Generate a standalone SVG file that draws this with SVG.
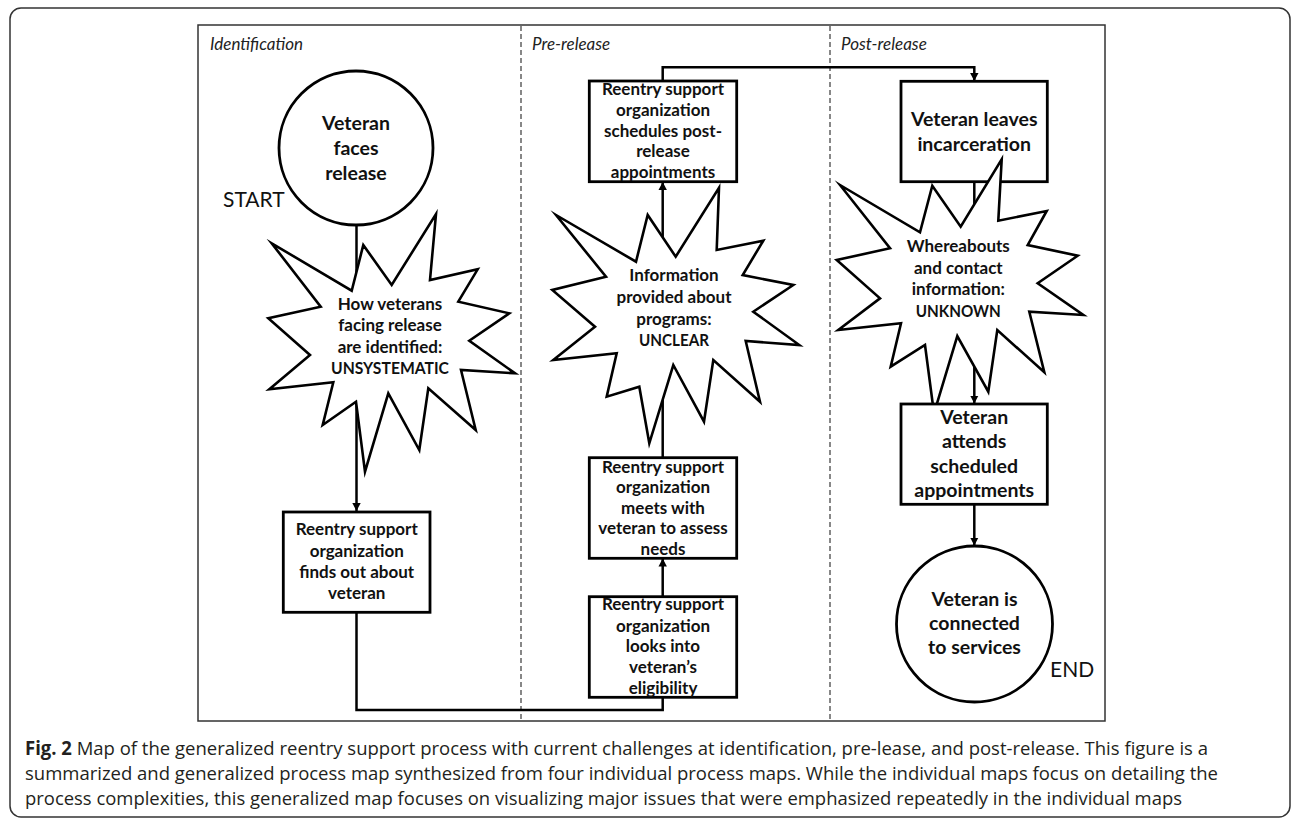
<svg xmlns="http://www.w3.org/2000/svg" width="1292" height="820" viewBox="0 0 1292 820">
<defs>
<style>
.frame{fill:none;stroke:#333;stroke-width:1.5}
.div{stroke:#555;stroke-width:1.4;stroke-dasharray:5 3;fill:none}
.box{fill:#fff;stroke:#000;stroke-width:2.8}
.burst{fill:#fff;stroke:#000;stroke-width:2.6;stroke-linejoin:miter;stroke-miterlimit:20}
.conn{fill:none;stroke:#000;stroke-width:2.5}
.t{font-family:Lato,"Liberation Sans",sans-serif;font-weight:bold;fill:#111;text-anchor:middle}
.s175{font-size:17px}
.s20{font-size:19.5px}
.phase{font-family:Lato,"Liberation Sans",sans-serif;font-style:italic;font-size:17px;fill:#222}
.se{font-family:Lato,"Liberation Sans",sans-serif;font-size:21px;fill:#111}
.cap{font-family:"Open Sans","Noto Sans",sans-serif;font-size:19px;fill:#231f20}
</style>
<marker id="arr" markerUnits="userSpaceOnUse" markerWidth="10" markerHeight="10" refX="8" refY="4.5" orient="auto">
<path d="M0,0.3 L8,4.5 L0,8.7 z" fill="#000"/>
</marker>
</defs>
<rect width="1292" height="820" fill="#fff"/>
<rect class="frame" x="10" y="8" width="1280" height="809" rx="11"/>
<rect class="frame" x="198" y="25" width="907" height="696"/>
<line class="div" x1="521" y1="26" x2="521" y2="720"/>
<line class="div" x1="830" y1="26" x2="830" y2="720"/>
<text class="phase" x="210" y="50">Identification</text>
<text class="phase" x="532" y="50">Pre-release</text>
<text class="phase" x="841" y="50">Post-release</text>

<g id="connectors">
<path class="conn" d="M356.5,225 V511" marker-end="url(#arr)"/>
<path class="conn" d="M356.5,612 V710 H662.7 V597" marker-end="url(#arr)"/>
<path class="conn" d="M662.7,597 V558.5" marker-end="url(#arr)"/>
<path class="conn" d="M662.7,457.7 V182" marker-end="url(#arr)"/>
<path class="conn" d="M662.7,81 V67.3 H974.3 V81" marker-end="url(#arr)"/>
<path class="conn" d="M974.3,181.7 V403.5" marker-end="url(#arr)"/>
<path class="conn" d="M974.3,504.3 V545.5" marker-end="url(#arr)"/>
</g>

<g id="start">
<circle class="box" cx="356" cy="148" r="77"/>
<text class="t s20" x="356" y="130">Veteran</text>
<text class="t s20" x="356" y="155">faces</text>
<text class="t s20" x="356" y="180">release</text>
<text class="se" x="223" y="207">START</text>
</g>

<g id="identified">
<polygon class="burst" points="271.7,243.3 351.7,290.7 363.3,245 391.7,285 436,214 430,280 477.7,269.3 458.3,301.7 509.3,313.3 469.3,340.7 515,373.3 461,370 475.7,430 428.3,388.3 419.3,450 388.3,393.3 365,471.7 356,401.7 322.7,425 333.3,382.3 269.3,389.3 310,355 268.3,318.3 320.7,306.7"/>
<text class="t s175" x="390" y="310">How veterans</text>
<text class="t s175" x="390" y="331">facing release</text>
<text class="t s175" x="390" y="352.5">are identified:</text>
<text class="t s175" x="390" y="374" textLength="118" lengthAdjust="spacingAndGlyphs">UNSYSTEMATIC</text>
</g>

<g id="findsout">
<rect class="box" x="283.3" y="512" width="146.7" height="100.3"/>
<text class="t s175" x="356.7" y="535">Reentry support</text>
<text class="t s175" x="356.7" y="556.5">organization</text>
<text class="t s175" x="356.7" y="578">finds out about</text>
<text class="t s175" x="356.7" y="599.3">veteran</text>
</g>

<g id="eligibility">
<rect class="box" x="589.3" y="596.7" width="147.4" height="100.6"/>
<text class="t s175" x="663" y="610">Reentry support</text>
<text class="t s175" x="663" y="631.5">organization</text>
<text class="t s175" x="663" y="652">looks into</text>
<text class="t s175" x="663" y="673">veteran’s</text>
<text class="t s175" x="663" y="693.5">eligibility</text>
</g>

<g id="meets">
<rect class="box" x="589.3" y="457.7" width="147.4" height="100.6"/>
<text class="t s175" x="663" y="472.7">Reentry support</text>
<text class="t s175" x="663" y="493">organization</text>
<text class="t s175" x="663" y="513.5">meets with</text>
<text class="t s175" x="663" y="534">veteran to assess</text>
<text class="t s175" x="663" y="555">needs</text>
</g>

<g id="information">
<polygon class="burst" points="556,215 636,261.7 647.7,215 675.7,256.7 719,187.7 716.7,250 763.3,240.7 742.7,275 793.3,285 753.3,311.7 799.3,345 745.7,341 760,401.7 713.3,360 704,421.7 673.3,365 649.3,443.3 639.3,386.7 606.7,396.7 616.7,353.3 553.3,360 595,326.7 552.3,290 606,276.7"/>
<text class="t s175" x="674" y="281">Information</text>
<text class="t s175" x="674" y="303">provided about</text>
<text class="t s175" x="674" y="325">programs:</text>
<text class="t s175" x="674" y="346" textLength="70" lengthAdjust="spacingAndGlyphs">UNCLEAR</text>
</g>

<g id="schedules">
<rect class="box" x="589.3" y="81" width="147.4" height="100.7"/>
<text class="t s175" x="663" y="95">Reentry support</text>
<text class="t s175" x="663" y="115.7">organization</text>
<text class="t s175" x="663" y="136.5">schedules post-</text>
<text class="t s175" x="663" y="157.3">release</text>
<text class="t s175" x="663" y="177.5">appointments</text>
</g>

<g id="leaves">
<rect class="box" x="901" y="81.3" width="146.3" height="100.4"/>
<text class="t s20" x="974.2" y="126">Veteran leaves</text>
<text class="t s20" x="974.2" y="150.7">incarceration</text>
</g>

<g id="whereabouts">
<polygon class="burst" points="840,185 920,232.3 932.3,185.7 960.7,226.7 1001.7,159.3 998.3,220.7 1046.7,211 1027.7,245 1077.7,255.7 1037.7,283.3 1083.3,315 1029.3,311.7 1044.3,372.3 997.3,330 988.3,391.7 957.3,336 934,413.3 925,345 890.7,366.7 901,323.3 838.3,330 880,298.3 836.7,260 890,248.3"/>
<text class="t s175" x="958.3" y="252.3">Whereabouts</text>
<text class="t s175" x="958.3" y="274">and contact</text>
<text class="t s175" x="958.3" y="295">information:</text>
<text class="t s175" x="958.3" y="316.7" textLength="85" lengthAdjust="spacingAndGlyphs">UNKNOWN</text>
</g>

<g id="attends">
<rect class="box" x="901" y="404" width="146.3" height="100.3"/>
<text class="t s20" x="974.2" y="424">Veteran</text>
<text class="t s20" x="974.2" y="448.3">attends</text>
<text class="t s20" x="974.2" y="472.7">scheduled</text>
<text class="t s20" x="974.2" y="496.7">appointments</text>
</g>

<g id="end">
<circle class="box" cx="974.5" cy="624" r="78"/>
<text class="t s20" x="974.5" y="606">Veteran is</text>
<text class="t s20" x="974.5" y="630">connected</text>
<text class="t s20" x="974.5" y="654">to services</text>
<text class="se" x="1050" y="677">END</text>
</g>

<g id="caption">
<text class="cap" x="25" y="755" textLength="1183" lengthAdjust="spacingAndGlyphs"><tspan font-weight="bold">Fig. 2</tspan> Map of the generalized reentry support process with current challenges at identification, pre-lease, and post-release. This figure is a</text>
<text class="cap" x="25" y="780" textLength="1193" lengthAdjust="spacingAndGlyphs">summarized and generalized process map synthesized from four individual process maps. While the individual maps focus on detailing the</text>
<text class="cap" x="25" y="805" textLength="1157" lengthAdjust="spacingAndGlyphs">process complexities, this generalized map focuses on visualizing major issues that were emphasized repeatedly in the individual maps</text>
</g>
</svg>
